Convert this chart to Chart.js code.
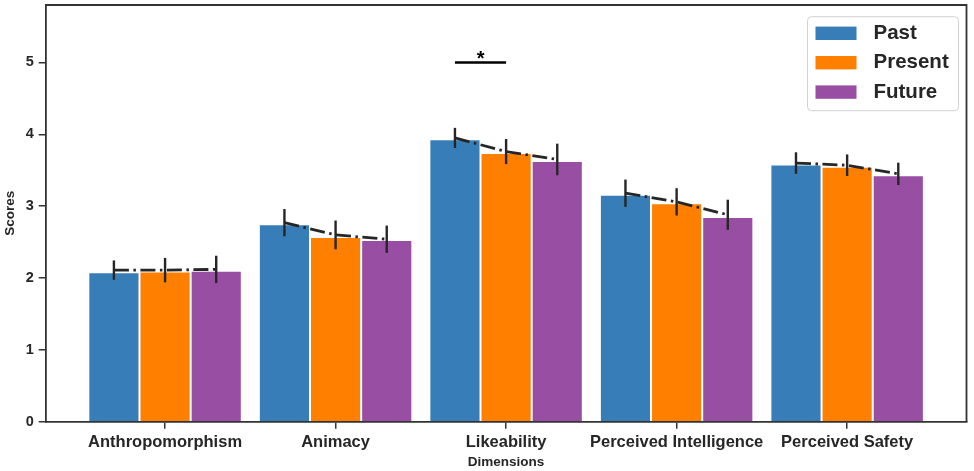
<!DOCTYPE html>
<html>
<head>
<meta charset="utf-8">
<title>Scores by dimension</title>
<script src="https://cdn.jsdelivr.net/npm/chart.js@4.4.1/dist/chart.umd.min.js"></script>
<style>
  body { margin: 0; background: #fff; }
  #wrap { width: 974px; height: 471px; }
</style>
</head>
<body>
<div id="wrap"><canvas id="scoresChart"></canvas></div>
<script>
// =========================
// DATA
// =========================
const dimensions = ['Anthropomorphism', 'Animacy', 'Likeability', 'Perceived Intelligence', 'Perceived Safety'];
const periods = ['Past', 'Present', 'Future'];
const yTicks = [0, 1, 2, 3, 4, 5];

// bar heights
const pastScores    = [2.08, 2.75, 3.93, 3.16, 3.58];
const presentScores = [2.09, 2.57, 3.74, 3.04, 3.55];
const futureScores  = [2.10, 2.53, 3.63, 2.85, 3.43];

// point estimates for the dash-dot trend + error bars
const pastMeans    = [2.11, 2.77, 3.95, 3.18, 3.60];
const presentMeans = [2.11, 2.60, 3.76, 3.06, 3.57];
const futureMeans  = [2.12, 2.54, 3.65, 2.88, 3.45];

const pastErr    = [0.135, 0.19, 0.14, 0.19, 0.15];
const presentErr = [0.17, 0.20, 0.175, 0.19, 0.15];
const futureErr  = [0.19, 0.19, 0.22, 0.21, 0.155];

// significance marker (Likeability: Past vs Present)
const sigFrom = 1.7;
const sigTo = 2.0;
const sigLevel = 5.0;
const sigLabel = '*';

// =========================
// STYLE
// =========================
const colors = ['#377eb8', '#ff7f00', '#984ea3'];
const ink = '#262626';
const spine = '#333333';
const font = "'Liberation Sans', Arial, sans-serif";
const groupOffsets = [-0.3, 0, 0.3];

const scoreSets = [pastScores, presentScores, futureScores];
const meanSets = [pastMeans, presentMeans, futureMeans];
const errSets = [pastErr, presentErr, futureErr];

// trend line points, broken between dimensions
const trendPoints = [];
dimensions.forEach((d, i) => {
  meanSets.forEach((means, k) => {
    trendPoints.push({ x: i + groupOffsets[k], y: means[i] });
  });
  trendPoints.push({ x: i + 0.5, y: null });
});

const barSets = periods.map((p, k) => ({
  type: 'bar',
  label: p,
  data: scoreSets[k].map((v, i) => ({ x: i, y: v })),
  backgroundColor: colors[k],
  borderColor: '#ffffff',
  borderWidth: 1,
  categoryPercentage: 0.9,
  barPercentage: 1.0,
  order: 2
}));

// =========================
// PLUGINS
// =========================
const errorBars = {
  id: 'errorBars',
  afterDatasetsDraw(chart) {
    const { ctx, scales: { x, y } } = chart;
    ctx.save();
    ctx.strokeStyle = ink;
    ctx.lineWidth = 2.4;
    meanSets.forEach((means, k) => {
      means.forEach((m, i) => {
        const px = x.getPixelForValue(i + groupOffsets[k]);
        ctx.beginPath();
        ctx.moveTo(px, y.getPixelForValue(m - errSets[k][i]));
        ctx.lineTo(px, y.getPixelForValue(m + errSets[k][i]));
        ctx.stroke();
      });
    });

    // significance line + star
    const sy = y.getPixelForValue(sigLevel);
    const x1 = x.getPixelForValue(sigFrom);
    const x2 = x.getPixelForValue(sigTo);
    ctx.strokeStyle = '#000';
    ctx.lineWidth = 2.6;
    ctx.beginPath();
    ctx.moveTo(x1, sy);
    ctx.lineTo(x2, sy);
    ctx.stroke();
    ctx.fillStyle = '#000';
    ctx.font = 'bold 20px ' + font;
    ctx.textAlign = 'center';
    ctx.textBaseline = 'alphabetic';
    ctx.fillText(sigLabel, (x1 + x2) / 2, sy + 2.5);
    ctx.restore();
  }
};

const frame = {
  id: 'frame',
  afterDraw(chart) {
    const { ctx, chartArea: a } = chart;
    ctx.save();
    ctx.strokeStyle = spine;
    ctx.lineWidth = 1.8;
    ctx.beginPath();
    ctx.moveTo(a.left, a.top);
    ctx.lineTo(a.right, a.top);
    ctx.lineTo(a.right, a.bottom);
    ctx.stroke();

    // legend box, top right
    const bx = a.right - 159, by = a.top + 11.7, bw = 151, bh = 94;
    ctx.fillStyle = 'rgba(255,255,255,0.8)';
    ctx.strokeStyle = '#d0d0d0';
    ctx.lineWidth = 1;
    ctx.beginPath();
    ctx.roundRect(bx, by, bw, bh, 4);
    ctx.fill();
    ctx.stroke();
    ctx.font = 'bold 20.5px ' + font;
    ctx.textAlign = 'left';
    ctx.textBaseline = 'middle';
    periods.forEach((p, k) => {
      const cy = by + 16.6 + k * 29.4;
      ctx.fillStyle = colors[k];
      ctx.fillRect(bx + 8, cy - 6.7, 41, 13.4);
      ctx.fillStyle = ink;
      ctx.fillText(p, bx + 66, cy);
    });
    ctx.restore();
  }
};

// =========================
// CHART
// =========================
const ctx = document.getElementById('scoresChart').getContext('2d');

new Chart(ctx, {
  type: 'bar',
  data: {
    datasets: [
      ...barSets,
      {
        type: 'line',
        label: 'trend',
        data: trendPoints,
        borderColor: ink,
        borderWidth: 2.8,
        borderDash: [15, 4.5, 2.5, 4.5],
        borderCapStyle: 'butt',
        pointRadius: 0,
        spanGaps: false,
        fill: false,
        tension: 0,
        order: 1
      }
    ]
  },
  options: {
    responsive: true,
    maintainAspectRatio: false,
    animation: false,
    events: [],
    layout: { padding: { left: 0, top: 5, right: 7.5, bottom: 0 } },
    plugins: {
      legend: { display: false },
      tooltip: { enabled: false }
    },
    scales: {
      x: {
        type: 'linear',
        min: -0.7,
        max: 4.7,
        offset: false,
        afterBuildTicks: s => { s.ticks = dimensions.map((d, i) => ({ value: i })); },
        afterFit: s => { s.height = 49.3; s.paddingLeft = 0; s.paddingRight = 0; },
        grid: { offset: false, drawOnChartArea: false, drawTicks: true, tickLength: 7, color: spine, lineWidth: 1.5 },
        border: { display: true, color: spine, width: 1.8 },
        ticks: {
          autoSkip: false,
          maxRotation: 0,
          padding: 4,
          color: ink,
          font: { family: font, size: 16.5, weight: 'bold' },
          callback: v => dimensions[v] ?? ''
        },
        title: {
          display: true,
          text: 'Dimensions',
          color: ink,
          font: { family: font, size: 13.5, weight: 'bold' },
          padding: { top: 0, bottom: 1 }
        }
      },
      y: {
        min: 0,
        max: 5.8,
        afterBuildTicks: s => { s.ticks = yTicks.map(v => ({ value: v })); },
        afterFit: s => { s.width = 45.7; s.paddingTop = 0; s.paddingBottom = 0; },
        grid: { drawOnChartArea: false, drawTicks: true, tickLength: 7, color: spine, lineWidth: 1.5 },
        border: { display: true, color: spine, width: 1.8 },
        ticks: {
          padding: 5,
          color: ink,
          font: { family: font, size: 14.5, weight: 'bold' }
        },
        title: {
          display: true,
          text: 'Scores',
          color: ink,
          font: { family: font, size: 13.5, weight: 'bold' },
          padding: { top: 2, bottom: 0 }
        }
      }
    }
  },
  plugins: [errorBars, frame]
});
</script>
</body>
</html>
